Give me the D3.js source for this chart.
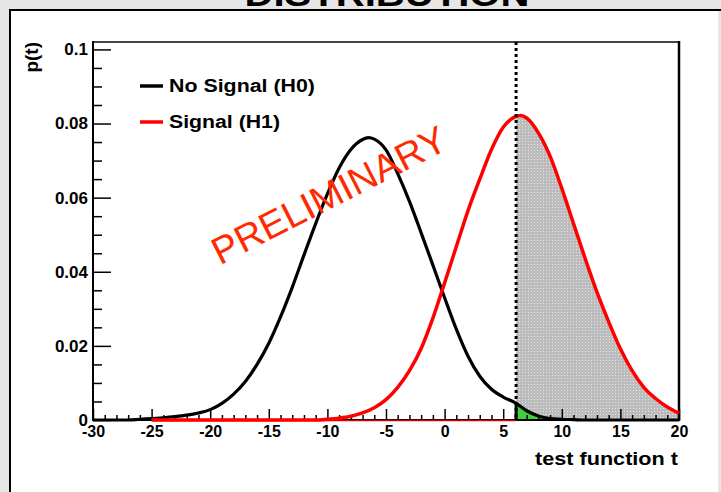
<!DOCTYPE html>
<html><head><meta charset="utf-8">
<script src="https://cdn.jsdelivr.net/npm/d3@7"></script>
<style>html,body{margin:0;padding:0;background:#e6e6e6;overflow:hidden}</style>
</head><body><svg id="c" width="721" height="492"></svg>
<script>
// ---------- data ----------
const xTicks = [-30,-25,-20,-15,-10,-5,0,5,10,15,20];
const xTickLabels = ["-30","-25","-20","-15","-10","-5","0","5","10","15","20"];
const yTicks = [0,0.02,0.04,0.06,0.08,0.1];
const yTickLabels = ["0","0.02","0.04","0.06","0.08","0.1"];

// No Signal (H0)
const tH0 = [-30,-27,-26,-25,-24,-23,-22,-21,-20,-19,-18,-17,-16,-15,-14,-13,-12,-11,-10,-9,-8,-7,-6.5,-6,-5,-4,-3,-2,-1,0,1,2,3,4,5,6,7,8,9,10,11,12,20];
const pH0 = [0,0,0.0002,0.0004,0.0006,0.0009,0.0013,0.0019,0.0028,0.0045,0.0070,0.0104,0.0150,0.0207,0.0278,0.0358,0.0445,0.0530,0.0610,0.0680,0.0730,0.0757,0.0762,0.0758,0.0729,0.0665,0.0590,0.0505,0.0418,0.0330,0.0245,0.0172,0.0118,0.0083,0.0062,0.0047,0.0025,0.0011,0.0004,0.0002,0.0001,0,0];

// Signal (H1)
const tH1 = [-25,-11,-10,-9,-8,-7,-6,-5,-4,-3,-2,-1,0,1,2,3,4,5,6,6.5,7,8,9,10,11,12,13,14,15,16,17,18,19,20];
const pH1 = [0,0,0.0002,0.0005,0.0010,0.0019,0.0033,0.0055,0.0088,0.0133,0.0193,0.0275,0.0370,0.0468,0.0565,0.0650,0.0730,0.0790,0.0818,0.0822,0.0815,0.0775,0.0712,0.0625,0.0530,0.0435,0.0345,0.0265,0.0192,0.0133,0.0088,0.0058,0.0035,0.0018];

const tCut = 6.1;
const seriesNames = ["No Signal (H0)","Signal (H1)"];
const seriesColors = ["#000000","#ff0000"];

// ---------- drawing ----------
const F = "'Liberation Sans', Arial, Helvetica, sans-serif";
const svg = d3.select("#c");
svg.append("rect").attr("width",721).attr("height",492).attr("fill","#e6e6e6");

svg.append("text").attr("x",387).attr("y",6).attr("text-anchor","middle")
  .attr("font-family",F).attr("font-weight","bold").attr("font-size",34)
  .attr("textLength",285).attr("lengthAdjust","spacingAndGlyphs").text("DISTRIBUTION");

svg.append("rect").attr("x",10).attr("y",10).attr("width",708).attr("height",490).attr("fill","#ffffff");
svg.append("line").attr("x1",9).attr("x2",721).attr("y1",10).attr("y2",10).attr("stroke","#000").attr("stroke-width",2);
svg.append("line").attr("x1",10).attr("x2",10).attr("y1",9).attr("y2",492).attr("stroke","#000").attr("stroke-width",2);

const x = d3.scaleLinear().domain([-30,20]).range([93,679]);
const y = d3.scaleLinear().domain([0,0.102]).range([420,42]);

const defs = svg.append("defs");
const pat = defs.append("pattern").attr("id","dots").attr("patternUnits","userSpaceOnUse")
  .attr("width",3).attr("height",3);
pat.append("rect").attr("width",3).attr("height",3).attr("fill","#bcbcbc");
pat.append("rect").attr("width",1).attr("height",1).attr("fill","#e4e4e4");

const H0 = tH0.map((t,i)=>({t, p:pH0[i]}));
const H1 = tH1.map((t,i)=>({t, p:pH1[i]}));
function interp(arr, t){
  for(let i=0;i<arr.length-1;i++){
    if(arr[i].t<=t && arr[i+1].t>=t){
      const f=(t-arr[i].t)/(arr[i+1].t-arr[i].t);
      return arr[i].p+f*(arr[i+1].p-arr[i].p);
    }
  }
  return 0;
}
const tail = (arr)=>[{t:tCut,p:interp(arr,tCut)}].concat(arr.filter(d=>d.t>tCut));

const area = d3.area().x(d=>x(d.t)).y0(y(0)).y1(d=>y(d.p)).curve(d3.curveMonotoneX);
const line = d3.line().x(d=>x(d.t)).y(d=>y(d.p)).curve(d3.curveMonotoneX);

svg.append("path").attr("d",area(tail(H1))).attr("fill","url(#dots)");
svg.append("path").attr("d",area(tail(H0).filter(d=>d.t<=10))).attr("fill","#3fcf3f");

// axes
const yMinor = d3.range(0,0.1001,0.005).filter(v=>Math.abs(v/0.02-Math.round(v/0.02))>1e-6);
const xMinor = d3.range(-30,20.01,1).filter(v=>v%5!==0);

const gy = svg.append("g").attr("transform","translate(93,0)");
gy.call(d3.axisLeft(y).tickValues(yMinor).tickSizeInner(-9).tickSizeOuter(0).tickFormat(""));
gy.call(g=>g.select(".domain").remove());
const gy2 = svg.append("g").attr("transform","translate(93,0)");
gy2.call(d3.axisLeft(y).tickValues(yTicks).tickSizeInner(-18).tickSizeOuter(0).tickPadding(5).tickFormat((d,i)=>yTickLabels[i]));
gy2.select(".domain").remove();
gy2.selectAll("text").attr("font-family",F).attr("font-weight","bold").attr("font-size",17).attr("fill","#000");

const gx = svg.append("g").attr("transform","translate(0,420)");
gx.call(d3.axisBottom(x).tickValues(xMinor).tickSizeInner(-5).tickSizeOuter(0).tickFormat(""));
gx.select(".domain").remove();
const gx2 = svg.append("g").attr("transform","translate(0,420)");
gx2.call(d3.axisBottom(x).tickValues(xTicks).tickSizeInner(-11).tickSizeOuter(0).tickPadding(6).tickFormat((d,i)=>xTickLabels[i]));
gx2.select(".domain").remove();
gx2.selectAll("text").attr("font-family",F).attr("font-weight","bold").attr("font-size",16).attr("fill","#000");
svg.selectAll(".tick line").attr("stroke","#000").attr("stroke-width",1.5);

// frame
svg.append("line").attr("x1",93).attr("x2",680).attr("y1",42).attr("y2",42).attr("stroke","#444").attr("stroke-width",2);
svg.append("line").attr("x1",679).attr("x2",679).attr("y1",41).attr("y2",421).attr("stroke","#000").attr("stroke-width",2.5);
svg.append("line").attr("x1",93).attr("x2",93).attr("y1",41).attr("y2",421).attr("stroke","#000").attr("stroke-width",2);
svg.append("line").attr("x1",92).attr("x2",680).attr("y1",420).attr("y2",420).attr("stroke","#000").attr("stroke-width",2);

// curves
svg.append("path").attr("d",line(H0)).attr("fill","none").attr("stroke",seriesColors[0]).attr("stroke-width",3.2);
svg.append("line").attr("x1",x(-25)).attr("x2",x(tCut)).attr("y1",y(0)+0.5).attr("y2",y(0)+0.5).attr("stroke","#d00").attr("stroke-width",1.5);
svg.append("path").attr("d",line(H1)).attr("fill","none").attr("stroke",seriesColors[1]).attr("stroke-width",3.5);
svg.append("line").attr("x1",x(tCut)).attr("x2",x(tCut)).attr("y1",y(interp(H0,tCut))).attr("y2",y(0)).attr("stroke","#000").attr("stroke-width",3);

// cut line
svg.append("line").attr("x1",x(tCut)).attr("x2",x(tCut)).attr("y1",42).attr("y2",420)
  .attr("stroke","#000").attr("stroke-width",3).attr("stroke-dasharray","3,3");

// legend
const legY = [86,122];
seriesNames.forEach((n,i)=>{
  svg.append("line").attr("x1",140).attr("x2",163).attr("y1",legY[i]).attr("y2",legY[i])
    .attr("stroke",seriesColors[i]).attr("stroke-width",3.5);
  svg.append("text").attr("x",169).attr("y",legY[i]).attr("dy","0.36em")
    .attr("font-family",F).attr("font-weight","bold").attr("font-size",18)
    .attr("textLength",i===0?146:111).attr("lengthAdjust","spacingAndGlyphs").text(n);
});

// axis titles
svg.append("text").attr("x",678).attr("y",465).attr("text-anchor","end")
  .attr("font-family",F).attr("font-weight","bold").attr("font-size",18)
  .attr("textLength",143).attr("lengthAdjust","spacingAndGlyphs").text("test function t");
svg.append("text").attr("transform","translate(38,42) rotate(-90)").attr("text-anchor","end")
  .attr("font-family",F).attr("font-weight","bold").attr("font-size",19).text("p(t)");

// watermark
svg.append("text").attr("transform","translate(329,195) rotate(-27)").attr("text-anchor","middle")
  .attr("dy","0.35em").attr("font-family",F).attr("font-size",38).attr("fill","#ff2a00")
  .attr("textLength",258).attr("lengthAdjust","spacingAndGlyphs").text("PRELIMINARY");
</script></body></html>
